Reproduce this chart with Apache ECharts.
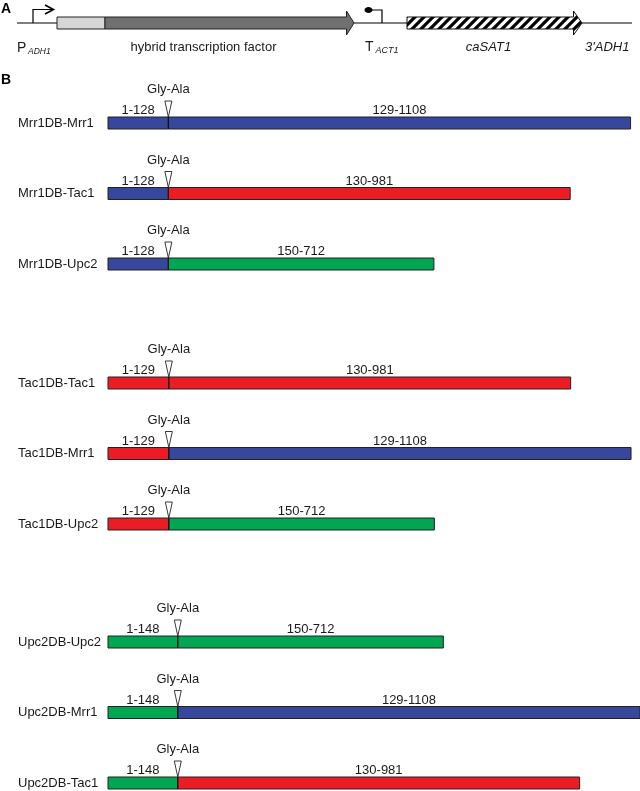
<!DOCTYPE html>
<html>
<head>
<meta charset="utf-8">
<script src="https://cdn.jsdelivr.net/npm/echarts@6/dist/echarts.min.js"></script>
<style>
  html, body { margin: 0; padding: 0; background: #fff; }
  #chart { width: 640px; height: 791px; }
</style>
</head>
<body>
<div id="chart"></div>
<script>
// ---- panel A: expression cassette (schematic units along the cassette) ----
const featureNames = ['backbone', 'PADH1', 'DB', 'hybrid', 'TACT1', 'caSAT1'];
const featureStart = [0, 16, 40, 88, 365, 390];
const featureEnd   = [615, 16, 88, 337, 365, 565];

// ---- panel B: hybrid transcription factors (amino acids) ----
const constructs = ['Mrr1DB-Mrr1', 'Mrr1DB-Tac1', 'Mrr1DB-Upc2',
                    'Tac1DB-Tac1', 'Tac1DB-Mrr1', 'Tac1DB-Upc2',
                    'Upc2DB-Upc2', 'Upc2DB-Mrr1', 'Upc2DB-Tac1'];
const dbProtein = ['Mrr1', 'Mrr1', 'Mrr1', 'Tac1', 'Tac1', 'Tac1', 'Upc2', 'Upc2', 'Upc2'];
const dbRange   = ['1-128', '1-128', '1-128', '1-129', '1-129', '1-129', '1-148', '1-148', '1-148'];
const dbLength  = [128, 128, 128, 129, 129, 129, 148, 148, 148];
const tfProtein = ['Mrr1', 'Tac1', 'Upc2', 'Tac1', 'Mrr1', 'Upc2', 'Upc2', 'Mrr1', 'Tac1'];
const tfRange   = ['129-1108', '130-981', '150-712', '130-981', '129-1108', '150-712', '150-712', '129-1108', '130-981'];
const tfLength  = [980, 852, 563, 852, 980, 563, 563, 980, 852];
const linker = 'Gly-Ala';

const proteinColor = { Mrr1: '#37479b', Tac1: '#ec1c24', Upc2: '#00a650' };
const FONT = '"Liberation Sans", Arial, sans-serif';
const INK = '#1a1a1a';

// diagonal hatch for the caSAT1 marker
function hatchTile() {
  const n = 9;
  const c = document.createElement('canvas');
  c.width = n; c.height = n;
  const g = c.getContext('2d');
  g.fillStyle = '#fff';
  g.fillRect(0, 0, n, n);
  g.strokeStyle = '#000';
  g.lineWidth = 3.2;
  g.beginPath();
  g.moveTo(-3, n + 3); g.lineTo(n + 3, -3);
  g.moveTo(-n, n); g.lineTo(n, -n);
  g.moveTo(0, 2 * n); g.lineTo(2 * n, 0);
  g.stroke();
  return c;
}
const hatch = { image: hatchTile(), repeat: 'repeat' };

function txt(text, x, y, size, opts) {
  opts = opts || {};
  return {
    type: 'text',
    style: {
      text: text, x: x, y: y,
      fontSize: size, fontFamily: FONT,
      fontStyle: opts.italic ? 'italic' : 'normal',
      fill: INK,
      align: opts.align || 'left',
      verticalAlign: 'middle'
    }
  };
}

function arrowShape(x0, x1, y, half, headHalf, headLen) {
  return [[x0, y - half], [x1 - headLen, y - half], [x1 - headLen, y - headHalf], [x1, y],
          [x1 - headLen, y + headHalf], [x1 - headLen, y + half], [x0, y + half]];
}

function renderCassette(params, api) {
  const i = params.dataIndex;
  const name = featureNames[i];
  const x0 = api.coord([featureStart[i], 0])[0];
  const x1 = api.coord([featureEnd[i], 0])[0];
  const y = api.coord([0, 0])[1];
  const ly = y + 24;
  const ch = [];
  const line = { stroke: '#000', lineWidth: 1.2, fill: null };
  if (name === 'backbone') {
    ch.push({ type: 'line', shape: { x1: x0, y1: y, x2: x1, y2: y }, style: line });
  } else if (name === 'PADH1') {
    ch.push({ type: 'polyline', shape: { points: [[x0, y], [x0, y - 13.5], [x0 + 20, y - 13.5]] }, style: line });
    ch.push({ type: 'polyline', shape: { points: [[x0 + 12, y - 18], [x0 + 20.5, y - 13.5], [x0 + 12, y - 9]] },
              style: { stroke: '#000', lineWidth: 1.6, fill: null } });
    ch.push(txt('P', x0 - 16, ly + 1.5, 14));
    ch.push(txt('ADH1', x0 - 5, ly + 4.5, 8.5, { italic: true }));
  } else if (name === 'DB') {
    ch.push({ type: 'rect', shape: { x: x0, y: y - 6, width: x1 - x0, height: 12 },
              style: { fill: '#d6d6d6', stroke: '#222', lineWidth: 1 } });
  } else if (name === 'hybrid') {
    ch.push({ type: 'polygon', shape: { points: arrowShape(x0, x1, y, 6, 12, 7.5) },
              style: { fill: '#707070', stroke: '#222', lineWidth: 1 } });
    const s = api.coord([featureStart[2], 0])[0];
    ch.push(txt('hybrid transcription factor', (s + x1) / 2 - 2, ly, 13, { align: 'center' }));
  } else if (name === 'TACT1') {
    ch.push({ type: 'polyline', shape: { points: [[x0, y], [x0, y - 13], [x0 - 11, y - 13]] }, style: line });
    ch.push({ type: 'ellipse', shape: { cx: x0 - 13.5, cy: y - 13, rx: 4, ry: 3 }, style: { fill: '#000' } });
    ch.push(txt('T', x0 - 17, ly, 14));
    ch.push(txt('ACT1', x0 - 6.5, ly + 3.5, 9, { italic: true }));
  } else if (name === 'caSAT1') {
    ch.push({ type: 'polygon', shape: { points: arrowShape(x0, x1, y, 6, 12, 8.5) },
              style: { fill: hatch, stroke: '#111', lineWidth: 1 } });
    ch.push(txt('caSAT1', (x0 + x1) / 2 - 6, ly, 13, { align: 'center', italic: true }));
    ch.push(txt("3'ADH1", x1 + 3, ly, 13, { italic: true }));
  }
  return { type: 'group', children: ch };
}

function makeFusionRender(offset) {
  return function (params, api) {
    const k = offset + params.dataIndex;
    const row = api.value(0);
    const db = api.value(1);
    const tf = api.value(2);
    const p0 = api.coord([0, row]);
    const pj = api.coord([db, row]);
    const p1 = api.coord([db + tf, row]);
    const h = 12;
    const top = p0[1] - h / 2;
    const xj = pj[0];
    const edge = { stroke: '#222', lineWidth: 1 };
    return {
      type: 'group',
      children: [
        { type: 'rect', shape: { x: p0[0], y: top, width: xj - p0[0], height: h },
          style: Object.assign({ fill: proteinColor[dbProtein[k]] }, edge) },
        { type: 'rect', shape: { x: xj, y: top, width: p1[0] - xj, height: h },
          style: Object.assign({ fill: proteinColor[tfProtein[k]] }, edge) },
        { type: 'line', shape: { x1: xj, y1: top, x2: xj, y2: top + h },
          style: { stroke: '#111', lineWidth: 1 } },
        { type: 'polygon', shape: { points: [[xj - 3.5, top - 16], [xj + 3.5, top - 16], [xj, top]] },
          style: { fill: '#fff', stroke: '#222', lineWidth: 0.9 } },
        txt(linker, xj, top - 27.5, 13, { align: 'center' }),
        txt(dbRange[k], (p0[0] + xj) / 2, top - 6.5, 13, { align: 'center' }),
        txt(tfRange[k], (xj + p1[0]) / 2, top - 6.5, 13, { align: 'center' })
      ]
    };
  };
}

// each group: first row centre at top, last row centre at top + height
const groupTops = [123, 383, 642];
const grids = [{ left: 17, width: 615, top: 11, height: 24 }];
const xAxes = [{ type: 'value', gridIndex: 0, min: 0, max: 615, show: false }];
const yAxes = [{ type: 'value', gridIndex: 0, min: -1, max: 1, show: false }];
const series = [{
  type: 'custom', xAxisIndex: 0, yAxisIndex: 0, silent: true,
  renderItem: renderCassette,
  data: featureNames.map((n, i) => [featureStart[i], featureEnd[i]])
}];

groupTops.forEach((t, g) => {
  const gi = g + 1;
  grids.push({ left: 108, right: 0, top: t, height: 141 });
  xAxes.push({ type: 'value', gridIndex: gi, min: 0, max: 1128, show: false });
  yAxes.push({
    type: 'category', gridIndex: gi, inverse: true, boundaryGap: false,
    data: constructs.slice(g * 3, g * 3 + 3),
    axisLine: { show: false }, axisTick: { show: false }, splitLine: { show: false },
    axisLabel: { align: 'left', margin: 90, fontSize: 13, fontFamily: FONT, color: INK }
  });
  series.push({
    type: 'custom', xAxisIndex: gi, yAxisIndex: gi, silent: true,
    renderItem: makeFusionRender(g * 3),
    encode: { x: [1, 2], y: 0 },
    data: [0, 1, 2].map(r => [r, dbLength[g * 3 + r], tfLength[g * 3 + r]])
  });
});

const chart = echarts.init(document.getElementById('chart'));
chart.setOption({
  backgroundColor: '#fff',
  animation: false,
  graphic: [
    { type: 'text', left: 1, top: 2, style: { text: 'A', font: 'bold 14px ' + FONT, fill: '#000' } },
    { type: 'text', left: 1, top: 73, style: { text: 'B', font: 'bold 14px ' + FONT, fill: '#000' } }
  ],
  grid: grids,
  xAxis: xAxes,
  yAxis: yAxes,
  series: series
});
</script>
</body>
</html>
